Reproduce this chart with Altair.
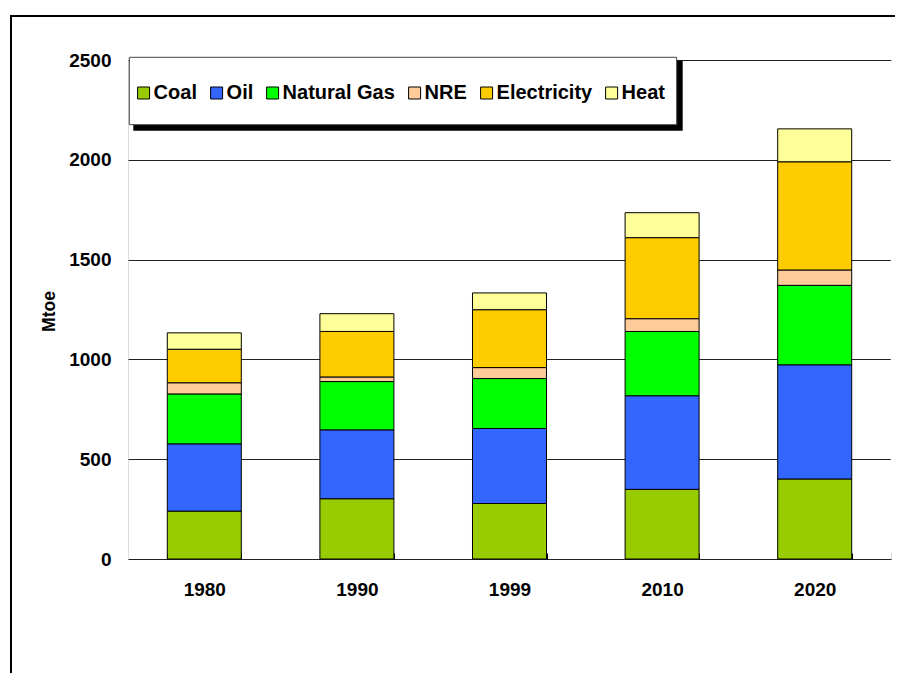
import altair as alt
import pandas as pd

years = ["1980", "1990", "1999", "2010", "2020"]
sources = ["Coal", "Oil", "Natural Gas", "NRE", "Electricity", "Heat"]
colors = ["#99CC00", "#3366FF", "#00FF00", "#FFCC99", "#FFCC00", "#FFFF99"]

coal = [240, 302, 278, 349, 401]
oil = [337, 345, 376, 469, 572]
gas = [250, 242, 250, 322, 398]
nre = [56, 23, 55, 64, 77]
electricity = [168, 228, 290, 406, 542]
heat = [82, 89, 84, 125, 165]

series = [coal, oil, gas, nre, electricity, heat]
rows = []
for si, (name, vals) in enumerate(zip(sources, series)):
    for y, v in zip(years, vals):
        rows.append({"year": y, "source": name, "value": v, "order": si})
df = pd.DataFrame(rows)

FONT = "Liberation Sans"
one = pd.DataFrame({"a": [0]})

frame_left = alt.Chart(one).mark_rule(color="black", strokeWidth=2).encode(
    x=alt.value(-117), y=alt.value(-45), y2=alt.value(700)
)
frame_top = alt.Chart(one).mark_rule(color="black", strokeWidth=2).encode(
    x=alt.value(-118), x2=alt.value(900), y=alt.value(-44)
)

bars = alt.Chart(df).mark_bar(stroke="black", strokeWidth=1).encode(
    x=alt.X("year:N", sort=years,
            scale=alt.Scale(paddingInner=0.515, paddingOuter=0.2575),
            axis=alt.Axis(title=None, labelAngle=0, domain=False, tickBand="extent",
                          tickSize=6, tickColor="black", offset=-6, labelPadding=21,
                          labelFont=FONT, labelFontSize=19, labelFontWeight="bold",
                          labelColor="black", grid=False)),
    y=alt.Y("value:Q", stack="zero",
            scale=alt.Scale(domain=[0, 2500], nice=False),
            axis=alt.Axis(title="Mtoe", values=[0, 500, 1000, 1500, 2000, 2500],
                          format="d",
                          domain=False, ticks=False, grid=True, gridColor="#222222",
                          gridWidth=1, labelPadding=17, labelFont=FONT,
                          labelFontSize=19, labelFontWeight="bold", labelColor="black",
                          titleFont=FONT, titleFontSize=17.5, titleFontWeight="bold",
                          titleColor="black", titleX=-79, titleY=251,
                          titleAlign="center", titleBaseline="middle")),
    color=alt.Color("source:N", sort=sources,
                    scale=alt.Scale(domain=sources, range=colors),
                    legend=alt.Legend(title=None, orient="none", legendX=1.6, legendY=23,
                                      direction="horizontal", symbolType="square",
                                      symbolSize=144, symbolStrokeColor="black",
                                      symbolStrokeWidth=1, symbolOpacity=1,
                                      symbolOffset=4,
                                      labelFont=FONT, labelFontSize=20,
                                      labelFontWeight="bold", labelColor="black",
                                      columnPadding=5, labelOffset=0, padding=0,
                                      gridAlign="none")),
    order=alt.Order("order:Q", sort="ascending"),
)

shadow = alt.Chart(one).mark_rect(fill="black").encode(
    x=alt.value(5.3), x2=alt.value(554.7), y=alt.value(0.7), y2=alt.value(70.7)
)
box = alt.Chart(one).mark_rect(fill="white", stroke="#444444", strokeWidth=1).encode(
    x=alt.value(1.3), x2=alt.value(548.7), y=alt.value(-2.7), y2=alt.value(64.7)
)
cover = alt.Chart(one).mark_rule(color="white", strokeWidth=3).encode(
    x=alt.value(764.3), y=alt.value(0.8), y2=alt.value(492)
)

chart = alt.layer(frame_left, frame_top, bars, shadow, box, cover).properties(
    width=763, height=499,
    padding={"left": 120, "top": 52, "right": 4, "bottom": 114},
    autosize=alt.AutoSizeParams(type="none"),
).configure_view(stroke="transparent", strokeWidth=0).configure_axis(
    domain=False
).configure(background="white")

chart.save("out.html", embed_options={"renderer": "svg", "actions": False})
